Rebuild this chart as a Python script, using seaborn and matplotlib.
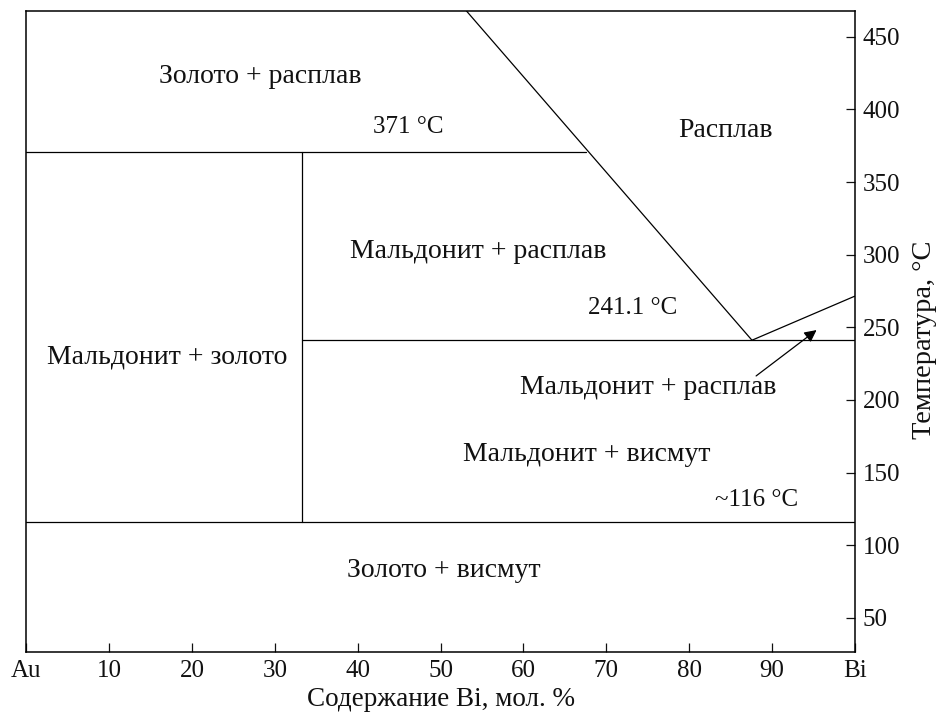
import matplotlib
matplotlib.use("Agg")
import matplotlib.pyplot as plt
import seaborn as sns
import pandas as pd

# ---- data ----
x_ticks = [0, 10, 20, 30, 40, 50, 60, 70, 80, 90, 100]
x_tick_labels = ["Au", "10", "20", "30", "40", "50", "60", "70", "80", "90", "Bi"]
y_ticks = [50, 100, 150, 200, 250, 300, 350, 400, 450]

T_peritectic = 371.0
T_eutectic = 241.1
T_decomp = 116.0
T_bi_melt = 271.4
x_au2bi = 33.3
x_eutectic = 87.6
x_peritectic_end = 67.6
liquidus_x = [53.1, x_eutectic]
liquidus_T = [468.0, T_eutectic]

seg_id = ["peritectic", "peritectic", "liquidus", "liquidus", "eutectic", "eutectic",
          "au2bi", "au2bi", "decomp", "decomp", "bi_liq", "bi_liq"]
seg_x = [0, x_peritectic_end, liquidus_x[0], liquidus_x[1], x_au2bi, 100,
         x_au2bi, x_au2bi, 0, 100, x_eutectic, 100]
seg_T = [T_peritectic, T_peritectic, liquidus_T[0], liquidus_T[1], T_eutectic, T_eutectic,
         T_decomp, T_peritectic, T_decomp, T_decomp, T_eutectic, T_bi_melt]

labels = ["Золото + расплав", "371 °C", "Расплав", "Мальдонит + расплав", "241.1 °C",
          "Мальдонит + золото", "Мальдонит + расплав", "Мальдонит + висмут", "~116 °C",
          "Золото + висмут"]
label_x = [28.2, 46.1, 84.4, 54.6, 73.2, 17.0, 75.1, 67.7, 88.2, 50.4]
label_T = [422.4, 387.8, 385.8, 302.5, 263.0, 229.5, 208.7, 162.6, 131.0, 82.8]
label_is_numeric = [False, True, False, False, True, False, False, False, True, False]

arrow_tail = (88.1, 216.5)
arrow_head = (95.4, 248.1)

# ---- plot ----
sns.set_theme(style="ticks")
plt.rcParams["font.family"] = ["Liberation Serif", "DejaVu Serif"]

fig = plt.figure(figsize=(9.36, 7.15), dpi=100)
ax = fig.add_axes([0.0283, 0.0881, 0.9131 - 0.0283, 0.985 - 0.0881])

df = pd.DataFrame({"seg": seg_id, "x": seg_x, "T": seg_T})
sns.lineplot(data=df, x="x", y="T", units="seg", estimator=None, sort=False,
             color="black", linewidth=0.9, ax=ax, legend=False)

fs = 18
fs_text = 20
for t, x, y, num in zip(labels, label_x, label_T, label_is_numeric):
    ax.text(x, y, t, ha="center", va="center", fontsize=fs if num else fs_text,
            color="#111111")

ax.annotate("", xy=arrow_head, xytext=arrow_tail,
            arrowprops=dict(arrowstyle="-|>", color="black", lw=0.9,
                            mutation_scale=18, shrinkA=0, shrinkB=0))

ax.set_xlim(0, 100)
ax.set_ylim(26.4, 468)
ax.set_xticks(x_ticks)
ax.set_xticklabels(x_tick_labels)
ax.set_yticks(y_ticks)
ax.yaxis.tick_right()
ax.yaxis.set_label_position("right")
ax.tick_params(axis="both", direction="in", length=6.5, width=0.9, labelsize=fs,
               colors="#111111", pad=6)
ax.tick_params(axis="y", left=False, right=True)
ax.tick_params(axis="x", top=False, bottom=True)
for s in ax.spines.values():
    s.set_visible(True)
    s.set_linewidth(1.1)
    s.set_color("black")

ax.set_xlabel("Содержание Bi, мол. %", fontsize=19.5, labelpad=3, color="#111111")
ax.set_ylabel("Температура, °C", fontsize=20.5, color="#111111")
ax.yaxis.set_label_coords(1.0695, 0.4865)
ax.set_facecolor("white")
fig.patch.set_facecolor("white")
ax.grid(False)

fig.savefig("out.png", dpi=100, facecolor="white")
